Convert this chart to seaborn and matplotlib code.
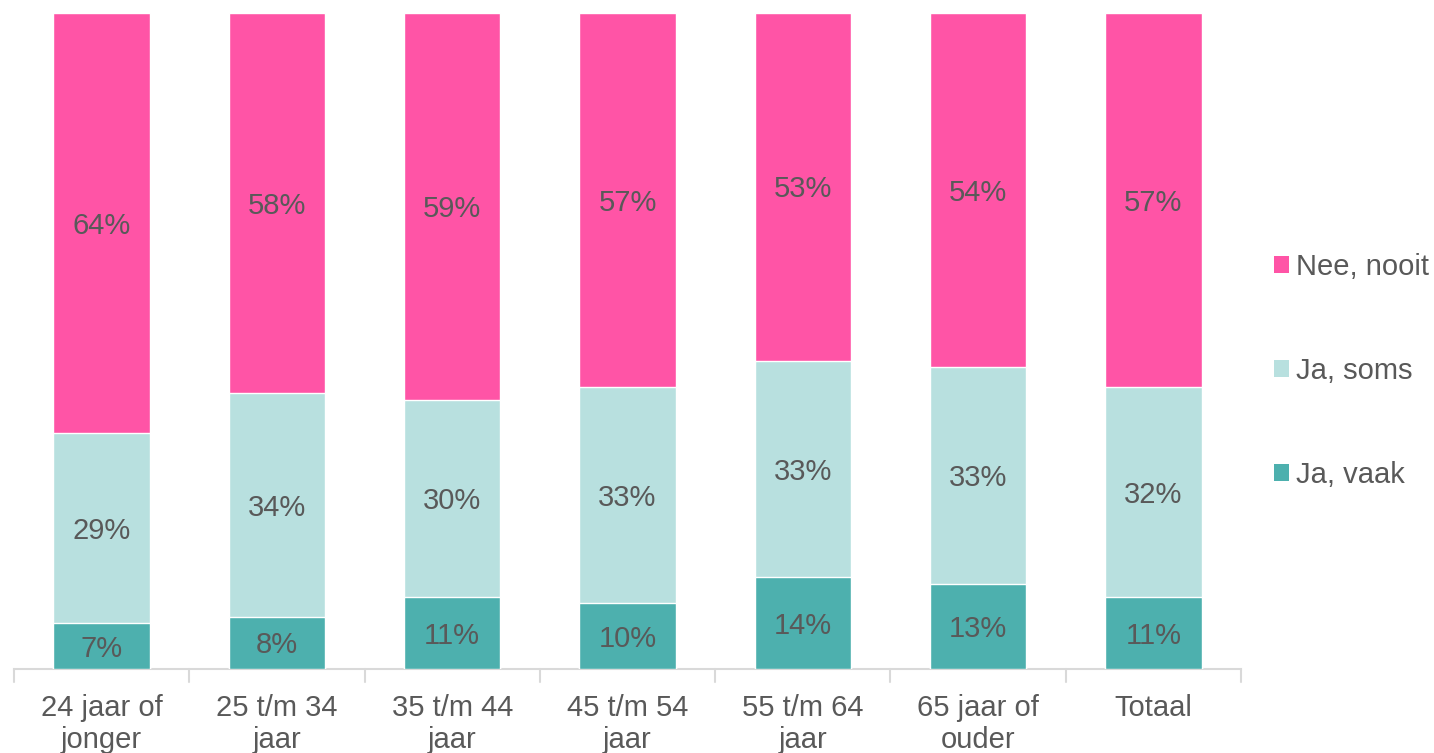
import matplotlib
matplotlib.use("Agg")
import matplotlib.pyplot as plt
import seaborn as sns
import numpy as np
import pandas as pd
from matplotlib.patches import Patch

categories = ["24 jaar of\njonger", "25 t/m 34\njaar", "35 t/m 44\njaar", "45 t/m 54\njaar",
              "55 t/m 64\njaar", "65 jaar of\nouder", "Totaal"]
ja_vaak = [7, 8, 11, 10, 14, 13, 11]
ja_soms = [29, 34, 30, 33, 33, 33, 32]
nee_nooit = [64, 58, 59, 57, 53, 54, 57]
series_names = ["Ja, vaak", "Ja, soms", "Nee, nooit"]
colors = ["#4DB0AE", "#B8E0DF", "#FF54A6"]
text_color = "#595959"

sns.set_theme(style="white")
plt.rcParams['font.family'] = ['Liberation Sans', 'DejaVu Sans']

fig = plt.figure(figsize=(14.34, 7.53), dpi=100)
ax = fig.add_axes([14/1434, 1 - 669/753, (1241 - 14)/1434, (669 - 13)/753])

v = np.array(ja_vaak, dtype=float)
s = np.array(ja_soms, dtype=float)
n = np.array(nee_nooit, dtype=float)
cum = [v, v + s, v + s + n]

# draw cumulative layers, largest first
for i in [2, 1, 0]:
    df = pd.DataFrame({"cat": categories, "val": cum[i]})
    sns.barplot(data=df, x="cat", y="val", color=colors[i], saturation=1,
                width=0.55, edgecolor="white", linewidth=1, ax=ax, zorder=2 + (2 - i))

bottoms = [np.zeros_like(v), v, v + s]
vals = [v, s, n]
for i in range(3):
    for j in range(len(categories)):
        y = bottoms[i][j] + vals[i][j] / 2
        ax.text(j, y - 0.4, f"{int(vals[i][j])}%", ha="center", va="center",
                fontsize=21, color=text_color, zorder=10)

ax.set_ylim(0, 100)
ax.set_xlim(-0.5, len(categories) - 0.5)
ax.set_xlabel("")
ax.set_ylabel("")
ax.set_yticks([])
for sp in ["top", "right", "left"]:
    ax.spines[sp].set_visible(False)
ax.spines["bottom"].set_color("#D9D9D9")
ax.spines["bottom"].set_linewidth(1.5)

ax.set_xticks(range(len(categories)))
ax.set_xticklabels(categories, fontsize=21, color=text_color, linespacing=1.2)
ax.tick_params(axis="x", length=0, pad=18)
# boundary tick marks
for b in np.arange(-0.5, len(categories), 1.0):
    ax.plot([b, b], [0, -2], color="#D9D9D9", lw=1.5, clip_on=False, zorder=1)

handles = [Patch(facecolor=colors[i], edgecolor="none") for i in [2, 1, 0]]
labels = [series_names[i] for i in [2, 1, 0]]
fig.legend(handles, labels, loc="center left", bbox_to_anchor=(1274/1434, 1 - 371/753),
           frameon=False, fontsize=21, labelcolor=text_color, handlelength=0.52,
           handleheight=0.52, handletextpad=0.25, labelspacing=2.6,
           borderpad=0, borderaxespad=0)

fig.savefig("out.png", dpi=100)
